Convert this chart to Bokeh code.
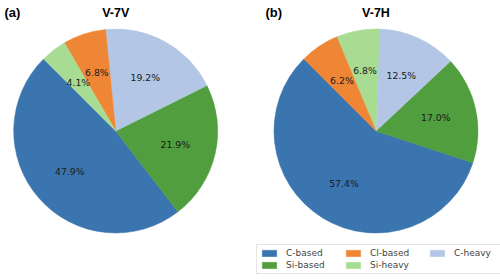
import numpy as np
from bokeh.plotting import figure
from bokeh.models import ColumnDataSource, Range1d, Legend, LegendItem
from bokeh.core.properties import value
from bokeh.embed import file_html
from bokeh.resources import INLINE

# ---- data ----
categories = ["C-based", "Cl-based", "C-heavy", "Si-based", "Si-heavy"]
colors = {"C-based": "#3A75AF", "Cl-based": "#EF8636", "C-heavy": "#B3C6E5",
          "Si-based": "#519E3E", "Si-heavy": "#A8DC93"}
v7v_cats = ["C-based", "Si-based", "C-heavy", "Cl-based", "Si-heavy"]
v7v_vals = [47.9, 21.9, 19.2, 6.8, 4.1]
v7h_cats = ["C-based", "Si-based", "C-heavy", "Si-heavy", "Cl-based"]
v7h_vals = [57.4, 17.0, 12.5, 6.8, 6.2]
panel_tags = ["(a)", "(b)"]
panel_titles = ["V-7V", "V-7H"]

W, H = 500, 279
p = figure(width=W, height=H, output_backend="svg", toolbar_location=None,
           x_range=Range1d(0, W), y_range=Range1d(0, H),
           min_border=0, border_fill_color="white", outline_line_color=None)
p.axis.visible = False
p.grid.visible = False

def Y(py):
    return H - py

R = 102
centers = [(115.2, 130.5), (375.5, 130.5)]
tag_x = [4, 265]
renderers = {}
for (cx, cy), tx, cats, vals, tag, title in zip(centers, tag_x, [v7v_cats, v7h_cats],
                                                [v7v_vals, v7h_vals], panel_tags, panel_titles):
    vals = np.array(vals)
    frac = vals / vals.sum()
    starts = 135 + 360 * np.concatenate([[0], np.cumsum(frac)[:-1]])
    ends = 135 + 360 * np.cumsum(frac)
    mids = np.deg2rad((starts + ends) / 2)
    src = ColumnDataSource(dict(
        cat=cats, start=starts, end=ends,
        color=[colors[c] for c in cats],
        lx=cx + 0.6 * R * np.cos(mids), ly=Y(cy) + 0.6 * R * np.sin(mids),
        lab=["%.1f%%" % v for v in vals]))
    r = p.wedge(x=cx, y=Y(cy), radius=R, radius_units="screen",
                start_angle="start", end_angle="end", start_angle_units="deg",
                end_angle_units="deg", direction="anticlock",
                fill_color="color", line_color="color", line_width=0.5, source=src)
    renderers[title] = (r, cats)
    p.text(x="lx", y="ly", text="lab", source=src, text_align="center",
           text_baseline="middle", text_font=value("DejaVu Sans"),
           text_font_size="9.3px", text_color="#1a1a1a")
    p.text(x=[tx], y=[Y(12)], text=[tag], text_align="left",
           text_baseline="middle", text_font=value("Liberation Sans"),
           text_font_style="bold", text_font_size="13px", text_color="black")
    p.text(x=[cx], y=[Y(12)], text=[title], text_align="center",
           text_baseline="middle", text_font=value("Liberation Sans"),
           text_font_style="bold", text_font_size="12.5px", text_color="black")

r0, cats0 = renderers["V-7V"]
order = ["C-based", "Si-based", "Cl-based", "Si-heavy", "C-heavy"]
items = [LegendItem(label=c, renderers=[r0], index=cats0.index(c)) for c in order]
legend = Legend(items=items, nrows=2, orientation="vertical",
                location=(256, H - 274), glyph_width=18, glyph_height=8,
                label_standoff=8, spacing=2, padding=3, margin=0,
                label_width=56, label_height=9,
                label_text_font="DejaVu Sans", label_text_font_size="9px",
                border_line_color="#cccccc", border_line_width=1,
                background_fill_alpha=1)
p.add_layout(legend, "center")

open("out.html", "w").write(file_html(p, INLINE))
